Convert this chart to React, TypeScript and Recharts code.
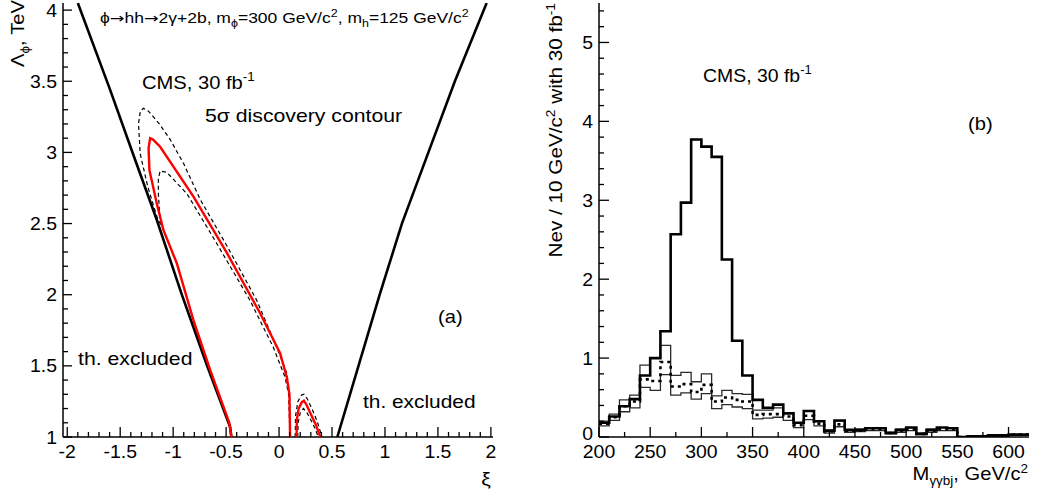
import React from 'react';
import { ComposedChart, Scatter, Line, XAxis, YAxis } from 'recharts';

const FONT = '"Liberation Sans", Arial, Helvetica, sans-serif';

// ---------- Panel (a): contour in (xi, Lambda) plane ----------
const boundLeftXi = [-1.9, -1.6, -1.36, -1.154, -0.918, -0.682, -0.462, -0.45];
const boundLeftLam = [4.05, 3.45, 2.95, 2.525, 2.0, 1.506, 1.07, 1.0];
const boundRightXi = [0.55, 0.75, 0.95, 1.16, 1.41, 1.66, 1.96];
const boundRightLam = [1.0, 1.5, 2.0, 2.5, 3.0, 3.5, 4.05];

const redXi = [-0.45, -0.47, -0.65, -0.808, -0.965, -1.092, -1.154, -1.224, -1.232, -1.217, -1.19, -1.123, -0.808, -0.49, -0.179, 0.009, 0.073, 0.098, 0.104];
const redLam = [1.0, 1.1, 1.47, 1.82, 2.22, 2.455, 2.64, 2.876, 3.03, 3.1, 3.09, 3.04, 2.69, 2.29, 1.87, 1.59, 1.42, 1.3, 1.0];

const outerXi = [-0.45, -0.47, -0.65, -0.808, -0.965, -1.092, -1.154, -1.24, -1.311, -1.327, -1.31, -1.28, -1.233, -1.13, -1.028, -0.9, -0.745, -0.49, -0.21, -0.022, 0.073, 0.1, 0.104];
const outerLam = [1.0, 1.1, 1.47, 1.82, 2.22, 2.455, 2.55, 2.76, 2.99, 3.2, 3.29, 3.31, 3.29, 3.2, 3.09, 2.92, 2.67, 2.34, 1.96, 1.63, 1.45, 1.3, 1.0];

const innerXi = [-0.45, -0.47, -0.65, -0.808, -0.965, -1.092, -1.123, -1.139, -1.14, -1.123, -1.06, -0.87, -0.588, -0.274, -0.054, 0.057, 0.09, 0.104];
const innerLam = [1.0, 1.1, 1.47, 1.82, 2.22, 2.455, 2.525, 2.7, 2.81, 2.87, 2.86, 2.71, 2.36, 1.96, 1.63, 1.42, 1.3, 1.0];

const redBumpXi = [0.165, 0.168, 0.185, 0.215, 0.235, 0.26, 0.3, 0.345, 0.39];
const redBumpLam = [1.0, 1.12, 1.2, 1.245, 1.255, 1.225, 1.16, 1.09, 1.0];
const outerBumpXi = [0.152, 0.156, 0.178, 0.213, 0.235, 0.265, 0.31, 0.36, 0.405];
const outerBumpLam = [1.0, 1.15, 1.25, 1.295, 1.3, 1.27, 1.2, 1.11, 1.0];
const innerBumpXi = [0.176, 0.18, 0.2, 0.23, 0.26, 0.3, 0.34, 0.37];
const innerBumpLam = [1.0, 1.1, 1.17, 1.2, 1.175, 1.12, 1.06, 1.0];

const xiTicks = Array.from({ length: 41 }, (_, i) => Math.round((-2 + i * 0.1) * 10) / 10);
const lamTicks = Array.from({ length: 31 }, (_, i) => Math.round((1 + i * 0.1) * 10) / 10);

// ---------- Panel (b): invariant mass histogram ----------
const massBins = [200, 210, 220, 230, 240, 250, 260, 270, 280, 290, 300, 310, 320, 330, 340, 350, 360, 370, 380, 390, 400, 410, 420, 430, 440, 450, 460, 470, 480, 490, 500, 510, 520, 530, 540, 550, 560, 570, 580, 590, 600, 610];
const sigPlusBkg = [0.18, 0.26, 0.39, 0.48, 0.78, 1.0, 1.34, 2.57, 2.97, 3.77, 3.68, 3.55, 2.25, 1.22, 0.78, 0.47, 0.37, 0.41, 0.3, 0.18, 0.33, 0.2, 0.08, 0.21, 0.09, 0.09, 0.11, 0.11, 0.05, 0.09, 0.12, 0.04, 0.09, 0.12, 0.11, 0.0, 0.01, 0.01, 0.02, 0.02, 0.03, 0.03];
const bkgUpper = [0.2, 0.29, 0.47, 0.53, 0.91, 1.0, 1.16, 0.78, 0.82, 0.7, 0.8, 0.52, 0.59, 0.55, 0.54, 0.34, 0.34, 0.37, 0.3, 0.18, 0.33, 0.2, 0.09, 0.2, 0.09, 0.1, 0.12, 0.12, 0.06, 0.1, 0.12, 0.05, 0.1, 0.12, 0.12, 0.0, 0.01, 0.01, 0.02, 0.02, 0.03, 0.03];
const bkgLower = [0.14, 0.21, 0.32, 0.37, 0.63, 0.59, 0.79, 0.53, 0.56, 0.48, 0.55, 0.36, 0.41, 0.38, 0.36, 0.23, 0.24, 0.25, 0.21, 0.12, 0.22, 0.14, 0.05, 0.13, 0.06, 0.07, 0.08, 0.08, 0.04, 0.06, 0.08, 0.03, 0.06, 0.08, 0.08, 0.0, 0.0, 0.0, 0.01, 0.01, 0.02, 0.02];
const bkgMean = [0.17, 0.25, 0.39, 0.45, 0.73, 0.71, 0.95, 0.64, 0.67, 0.57, 0.66, 0.45, 0.5, 0.47, 0.45, 0.28, 0.29, 0.29, 0.26, 0.15, 0.27, 0.17, 0.07, 0.16, 0.08, 0.08, 0.1, 0.1, 0.05, 0.08, 0.1, 0.04, 0.08, 0.1, 0.1, 0.0, 0.01, 0.01, 0.02, 0.02, 0.03, 0.03];
const massUpperEdge = 620;

const massTicks = Array.from({ length: 17 }, (_, i) => 200 + i * 25);
const nevTicks = Array.from({ length: 28 }, (_, i) => Math.round(i * 0.2 * 10) / 10);

const zip = (xs: number[], ys: number[]) => xs.map((x, i) => ({ x, y: ys[i] }));

const last = massBins.length - 1;
const histRows = [
  ...massBins.map((m, i) => ({ m, sig: sigPlusBkg[i], up: bkgUpper[i], lo: bkgLower[i], bkg: bkgMean[i] })),
  { m: massUpperEdge, sig: sigPlusBkg[last], up: bkgUpper[last], lo: bkgLower[last], bkg: bkgMean[last] },
];

const isMult = (v: number, step: number) => Math.abs(v / step - Math.round(v / step)) < 1e-6;

const makeXTick = (step: number, majLen: number, minLen: number) => (props: any) => {
  const { x, y, payload } = props;
  const v = payload.value;
  const major = isMult(v, step);
  return (
    <g>
      <line x1={x} x2={x} y1={y} y2={y - (major ? majLen : minLen)} stroke="#000" strokeWidth={1.3} />
      {major && (
        <text transform={`translate(${x},${y + 21}) scale(1.08,1)`} textAnchor="middle" fontFamily={FONT} fontSize={18} fill="#000">
          {String(v)}
        </text>
      )}
    </g>
  );
};

const makeYTick = (step: number, majLen: number, minLen: number) => (props: any) => {
  const { x, y, payload } = props;
  const v = payload.value;
  const major = isMult(v, step);
  const dy = v === 0 ? 3 : 6.5;
  return (
    <g>
      <line x1={x} x2={x + (major ? majLen : minLen)} y1={y} y2={y} stroke="#000" strokeWidth={1.3} />
      {major && (
        <text transform={`translate(${x - 6},${y + dy}) scale(1.08,1)`} textAnchor="end" fontFamily={FONT} fontSize={18} fill="#000">
          {String(v)}
        </text>
      )}
    </g>
  );
};

const noShape = () => null;

const T = ({ x, y, sx = 1.12, size = 18, anchor = 'start', rot = 0, children }: any) => (
  <text
    transform={`translate(${x},${y}) rotate(${rot}) scale(${sx},1)`}
    textAnchor={anchor}
    fontFamily={FONT}
    fontSize={size}
    fill="#000"
  >
    {children}
  </text>
);

const ARROW = '"DejaVu Sans", sans-serif';

export default function App() {
  return (
    <div style={{ position: 'fixed', left: 0, top: 0, width: 1039, height: 501, background: '#fff', overflow: 'hidden' }}>
      <div style={{ position: 'absolute', left: 0, top: 0 }}>
        <ComposedChart width={520} height={501} margin={{ top: 3, right: 27, bottom: 34, left: 23 }}>
          <XAxis
            xAxisId={0}
            type="number"
            dataKey="x"
            domain={[-2.04, 2.02]}
            allowDataOverflow
            ticks={xiTicks}
            interval={0}
            tick={makeXTick(0.5, 10, 5)}
            tickLine={false}
            tickSize={0}
            tickMargin={0}
            height={30}
            axisLine={{ stroke: '#000', strokeWidth: 1.5 }}
          />
          <XAxis xAxisId="top" orientation="top" type="number" domain={[-2.04, 2.02]} height={0} tick={false} tickLine={false} axisLine={{ stroke: '#222', strokeWidth: 1.2 }} />
          <YAxis
            yAxisId={0}
            type="number"
            dataKey="y"
            domain={[1, 4.05]}
            allowDataOverflow
            ticks={lamTicks}
            interval={0}
            tick={makeYTick(0.5, 9, 5)}
            tickLine={false}
            tickSize={0}
            tickMargin={0}
            width={40}
            axisLine={{ stroke: '#000', strokeWidth: 1.5 }}
          />
          <YAxis yAxisId="right" orientation="right" type="number" domain={[1, 4.05]} width={0} tick={false} tickLine={false} axisLine={{ stroke: '#888', strokeWidth: 1.2 }} />
          <Scatter data={zip(boundLeftXi, boundLeftLam)} line={{ stroke: '#000', strokeWidth: 2.6 }} lineType="joint" shape={noShape} isAnimationActive={false} />
          <Scatter data={zip(boundRightXi, boundRightLam)} line={{ stroke: '#000', strokeWidth: 2.6 }} lineType="joint" shape={noShape} isAnimationActive={false} />
          <Scatter data={zip(outerXi, outerLam)} line={{ stroke: '#000', strokeWidth: 1.2, strokeDasharray: '4 3' }} lineType="joint" shape={noShape} isAnimationActive={false} />
          <Scatter data={zip(innerXi, innerLam)} line={{ stroke: '#000', strokeWidth: 1.2, strokeDasharray: '4 3' }} lineType="joint" shape={noShape} isAnimationActive={false} />
          <Scatter data={zip(outerBumpXi, outerBumpLam)} line={{ stroke: '#000', strokeWidth: 1.2, strokeDasharray: '4 3' }} lineType="joint" shape={noShape} isAnimationActive={false} />
          <Scatter data={zip(innerBumpXi, innerBumpLam)} line={{ stroke: '#000', strokeWidth: 1.2, strokeDasharray: '4 3' }} lineType="joint" shape={noShape} isAnimationActive={false} />
          <Scatter data={zip(redXi, redLam)} line={{ stroke: '#ff0000', strokeWidth: 2.4 }} lineType="joint" shape={noShape} isAnimationActive={false} />
          <Scatter data={zip(redBumpXi, redBumpLam)} line={{ stroke: '#ff0000', strokeWidth: 2.4 }} lineType="joint" shape={noShape} isAnimationActive={false} />
        </ComposedChart>
      </div>
      <div style={{ position: 'absolute', left: 520, top: 0 }}>
        <ComposedChart width={519} height={501} data={histRows} margin={{ top: 3, right: 10, bottom: 34, left: 39 }}>
          <XAxis
            xAxisId={0}
            type="number"
            dataKey="m"
            domain={[200, 620]}
            allowDataOverflow
            ticks={massTicks}
            interval={0}
            tick={makeXTick(50, 10, 5)}
            tickLine={false}
            tickSize={0}
            tickMargin={0}
            height={30}
            axisLine={{ stroke: '#000', strokeWidth: 1.5 }}
          />
          <XAxis xAxisId="top" orientation="top" type="number" domain={[200, 620]} height={0} tick={false} tickLine={false} axisLine={{ stroke: '#222', strokeWidth: 1.2 }} />
          <YAxis
            yAxisId={0}
            type="number"
            domain={[0, 5.5]}
            allowDataOverflow
            ticks={nevTicks}
            interval={0}
            tick={makeYTick(1, 10, 5)}
            tickLine={false}
            tickSize={0}
            tickMargin={0}
            width={40}
            axisLine={{ stroke: '#000', strokeWidth: 1.5 }}
          />
          <YAxis yAxisId="right" orientation="right" type="number" domain={[0, 5.5]} width={0} tick={false} tickLine={false} axisLine={{ stroke: '#888', strokeWidth: 1.2 }} />
          <Line type="stepAfter" dataKey="up" stroke="#2a2a2a" strokeWidth={1.3} dot={false} isAnimationActive={false} />
          <Line type="stepAfter" dataKey="lo" stroke="#2a2a2a" strokeWidth={1.3} dot={false} isAnimationActive={false} />
          <Line type="stepAfter" dataKey="bkg" stroke="#000" strokeWidth={2.6} strokeDasharray="3 4" dot={false} isAnimationActive={false} />
          <Line type="stepAfter" dataKey="sig" stroke="#000" strokeWidth={2.6} dot={false} isAnimationActive={false} />
        </ComposedChart>
      </div>
      <svg width={1039} height={501} style={{ position: 'absolute', left: 0, top: 0, pointerEvents: 'none' }}>
        {/* panel (a) texts */}
        <T x={100} y={23} size={14} sx={1.25}>
          ϕ<tspan fontFamily={ARROW}>→</tspan>hh<tspan fontFamily={ARROW}>→</tspan>2γ+2b, m<tspan dy={4} fontSize={10}>ϕ</tspan>
          <tspan dy={-4}>=300 GeV/c</tspan>
          <tspan dy={-6} fontSize={10}>2</tspan>
          <tspan dy={6}>, m</tspan>
          <tspan dy={4} fontSize={10}>h</tspan>
          <tspan dy={-4}>=125 GeV/c</tspan>
          <tspan dy={-6} fontSize={10}>2</tspan>
        </T>
        <T x={142} y={89}>
          CMS, 30 fb<tspan dy={-8} fontSize={12}>-1</tspan>
        </T>
        <T x={205} y={122} sx={1.18}>5σ discovery contour</T>
        <T x={438} y={323}>(a)</T>
        <T x={78} y={365} sx={1.18}>th. excluded</T>
        <T x={363} y={408} sx={1.16}>th. excluded</T>
        <T x={486} y={485} size={19} anchor="middle">ξ</T>
        <T x={24} y={0} rot={-90} anchor="end">
          Λ<tspan dy={5} fontSize={12}>ϕ</tspan>
          <tspan dy={-5}>, TeV</tspan>
        </T>
        {/* panel (b) texts */}
        <T x={703} y={82} sx={1.08}>
          CMS, 30 fb<tspan dy={-8} fontSize={12}>-1</tspan>
        </T>
        <T x={968} y={130}>(b)</T>
        <T x={562} y={3} rot={-90} anchor="end" sx={1.15}>
          Nev / 10 GeV/c<tspan dy={-7} fontSize={12}>2</tspan>
          <tspan dy={7}> with 30 fb</tspan>
          <tspan dy={-7} fontSize={12}>-1</tspan>
        </T>
        <T x={1028} y={480} anchor="end">
          M<tspan dy={5} fontSize={12}>γγbj</tspan>
          <tspan dy={-5}>, GeV/c</tspan>
          <tspan dy={-7} fontSize={12}>2</tspan>
        </T>
      </svg>
    </div>
  );
}
